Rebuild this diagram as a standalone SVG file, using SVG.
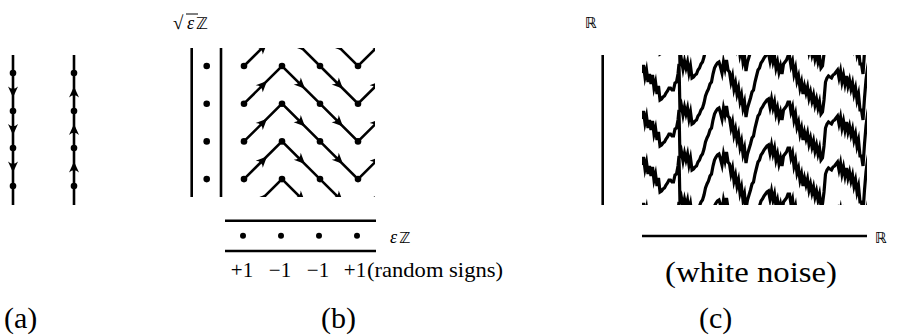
<svg xmlns="http://www.w3.org/2000/svg" width="898" height="335" viewBox="0 0 898 335">
<style>
.ln{stroke:#000;stroke-width:2.6;fill:none}
.dot{fill:#000}
.ah{fill:#000}
.noise{stroke:#000;stroke-width:3.2;fill:none;stroke-linejoin:miter;stroke-miterlimit:6}
.serif{font-family:'Liberation Serif','Times New Roman',Times,serif;fill:#000}
.dbl{font-family:'DejaVu Sans',sans-serif;fill:#000}
</style>
<defs>
<path id="ah" class="ah" d="M0,0 L-11,-5 Q-6.5,0 -11,5 Z"/>
<g id="zrow">
<polyline class="ln" points="244,0 282,-37.7 320,0 358,37.7 396,0"/>
<use href="#ah" transform="translate(267,-22.7) rotate(-45)"/>
<use href="#ah" transform="translate(305,-15) rotate(45)"/>
<use href="#ah" transform="translate(343,22.7) rotate(45)"/>
<use href="#ah" transform="translate(381,15) rotate(-45)"/>
</g>
<path id="bm" class="noise" d="M642,73 L643.5,65 L645,77 L646.5,70 L648,82 L649.5,74 L651,84 L652.5,75 L654,88 L655.5,82 L657,94 L658.5,86 L660,100 L661.5,99 L663,97 L664.5,96 L666,93 L667.5,91 L669,88 L670.5,88 L672,90 L673.5,90 L675,83 L676.5,82 L678,74 L679,64 L680,112 L681.5,106 L683,115 L684.5,107 L686,114 L687.5,108 L689,119 L690.5,112 L692,124 L693.5,123 L695,121 L696.5,120 L698,116 L699.5,114 L701,110 L702.5,108 L704,103 L705.5,96 L707,92 L708.5,89 L710,84 L711.5,82 L713,74 L714.5,68 L716,65 L717.5,63 L719,62 L720.5,67 L722,73 L723.5,62 L725,69 L726.5,60 L728,70 L729.5,72 L731,82 L732.5,76 L734,89 L735.5,83 L737,94 L738.5,88 L740,101 L741.5,95 L743,108 L744.5,102 L746,117 L747.5,108 L749,103 L750.5,98 L752,92 L753.5,90 L755,82 L756.5,76 L758,70 L759.5,68 L761,63 L762.5,61 L764,58 L765.5,56 L767,54 L768.5,53 L770,61 L771.5,53 L773,62 L774.5,56 L776,68 L777.5,62 L779,72 L780.5,66 L782,74 L783.5,64 L785,62 L786.5,60 L788,56 L789.5,56 L791,66 L792.5,61 L794,74 L795.5,68 L797,81 L798.5,76 L800,88 L801.5,82 L803,94 L804.5,86 L806,93 L807.5,87 L809,98 L810.5,92 L812,101 L813.5,95 L815,105 L816.5,99 L818,108 L819.5,102 L821,114 L822.5,112 L824,100 L825.5,82 L827,78 L828.5,76 L830,77 L831.5,78 L833,75 L834.5,74 L836,72 L837.5,70 L839,78 L840.5,71 L842,82 L843.5,75 L845,84 L846.5,76 L848,86 L849.5,80 L851,89 L852.5,83 L854,94 L855.5,88 L857,100 L858.5,94 L860,110 L861.5,110 L863,120 L864.5,98 L866,80 L867.5,68 L869,60"/>
<clipPath id="clipb"><rect x="236" y="48" width="139" height="149"/></clipPath>
<clipPath id="clipc"><rect x="642" y="55" width="225" height="150"/></clipPath>
</defs>

<g id="panel-a">
<g id="a-left">
<line class="ln" x1="13" y1="55" x2="13" y2="205"/>
<circle class="dot" cx="13" cy="73" r="3.3"/>
<circle class="dot" cx="13" cy="111" r="3.3"/>
<circle class="dot" cx="13" cy="148" r="3.3"/>
<circle class="dot" cx="13" cy="186" r="3.3"/>
<use href="#ah" transform="translate(13,97.5) rotate(90)"/>
<use href="#ah" transform="translate(13,135) rotate(90)"/>
<use href="#ah" transform="translate(13,172.5) rotate(90)"/>
</g>
<g id="a-right">
<line class="ln" x1="74" y1="55" x2="74" y2="205"/>
<circle class="dot" cx="74" cy="73" r="3.3"/>
<circle class="dot" cx="74" cy="111" r="3.3"/>
<circle class="dot" cx="74" cy="148" r="3.3"/>
<circle class="dot" cx="74" cy="186" r="3.3"/>
<use href="#ah" transform="translate(74,86.5) rotate(-90)"/>
<use href="#ah" transform="translate(74,124) rotate(-90)"/>
<use href="#ah" transform="translate(74,161.5) rotate(-90)"/>
</g>
<text class="serif" x="4" y="328" font-size="30">(a)</text>
</g>

<g id="panel-b">
<g id="b-label">
<text class="serif" x="173" y="29" font-size="19">√</text>
<line x1="186" y1="14" x2="198" y2="14" stroke="#000" stroke-width="1"/>
<text class="serif" x="187" y="29" font-size="18" font-style="italic">ε</text>
<text class="dbl" x="196" y="29" font-size="16">ℤ</text>
</g>
<g id="b-column">
<line class="ln" x1="191.7" y1="48" x2="191.7" y2="197"/>
<line class="ln" x1="221" y1="48" x2="221" y2="197"/>
<circle class="dot" cx="206.7" cy="66" r="3.3"/>
<circle class="dot" cx="206.7" cy="103.7" r="3.3"/>
<circle class="dot" cx="206.7" cy="141.4" r="3.3"/>
<circle class="dot" cx="206.7" cy="179.1" r="3.3"/>
</g>
<g id="connectors" clip-path="url(#clipb)">
<use href="#zrow" transform="translate(0,28.3)"/>
<use href="#zrow" transform="translate(0,66)"/>
<use href="#zrow" transform="translate(0,103.7)"/>
<use href="#zrow" transform="translate(0,141.4)"/>
<use href="#zrow" transform="translate(0,179.1)"/>
<use href="#zrow" transform="translate(0,216.8)"/>
</g>
<g id="b-grid">
<circle class="dot" cx="244" cy="66" r="3.3"/><circle class="dot" cx="282" cy="66" r="3.3"/><circle class="dot" cx="320" cy="66" r="3.3"/><circle class="dot" cx="358" cy="66" r="3.3"/>
<circle class="dot" cx="244" cy="103.7" r="3.3"/><circle class="dot" cx="282" cy="103.7" r="3.3"/><circle class="dot" cx="320" cy="103.7" r="3.3"/><circle class="dot" cx="358" cy="103.7" r="3.3"/>
<circle class="dot" cx="244" cy="141.4" r="3.3"/><circle class="dot" cx="282" cy="141.4" r="3.3"/><circle class="dot" cx="320" cy="141.4" r="3.3"/><circle class="dot" cx="358" cy="141.4" r="3.3"/>
<circle class="dot" cx="244" cy="179.1" r="3.3"/><circle class="dot" cx="282" cy="179.1" r="3.3"/><circle class="dot" cx="320" cy="179.1" r="3.3"/><circle class="dot" cx="358" cy="179.1" r="3.3"/>
</g>
<g id="b-axis">
<line class="ln" x1="225" y1="220.7" x2="376" y2="220.7"/>
<line class="ln" x1="225" y1="251" x2="376" y2="251"/>
<circle class="dot" cx="243" cy="235.7" r="3"/>
<circle class="dot" cx="281" cy="235.7" r="3"/>
<circle class="dot" cx="319" cy="235.7" r="3"/>
<circle class="dot" cx="357" cy="235.7" r="3"/>
<text class="serif" x="390" y="243" font-size="18" font-style="italic">ε</text>
<text class="dbl" x="399" y="243" font-size="15">ℤ</text>
</g>
<g id="b-signs" class="serif" font-size="21" text-anchor="middle">
<text x="242" y="277">+1</text>
<text x="280" y="277">−1</text>
<text x="318" y="277">−1</text>
<text x="355" y="277">+1</text>
</g>
<text class="serif" x="367" y="277" font-size="22" textLength="136" lengthAdjust="spacingAndGlyphs">(random signs)</text>
<text class="serif" x="321" y="328" font-size="30">(b)</text>
</g>

<g id="panel-c">
<text class="dbl" x="585" y="28" font-size="15">ℝ</text>
<line class="ln" x1="602.7" y1="55" x2="602.7" y2="205"/>
<g id="noise" clip-path="url(#clipc)">
<use href="#bm" transform="translate(0,-46)"/>
<use href="#bm"/>
<use href="#bm" transform="translate(0,46)"/>
<use href="#bm" transform="translate(0,92)"/>
<use href="#bm" transform="translate(0,138)"/>
</g>
<line class="ln" x1="642" y1="236" x2="867" y2="236"/>
<text class="dbl" x="875" y="243" font-size="15">ℝ</text>
<text class="serif" x="665" y="282" font-size="29" textLength="172" lengthAdjust="spacingAndGlyphs">(white noise)</text>
<text class="serif" x="699" y="328" font-size="30">(c)</text>
</g>
</svg>
